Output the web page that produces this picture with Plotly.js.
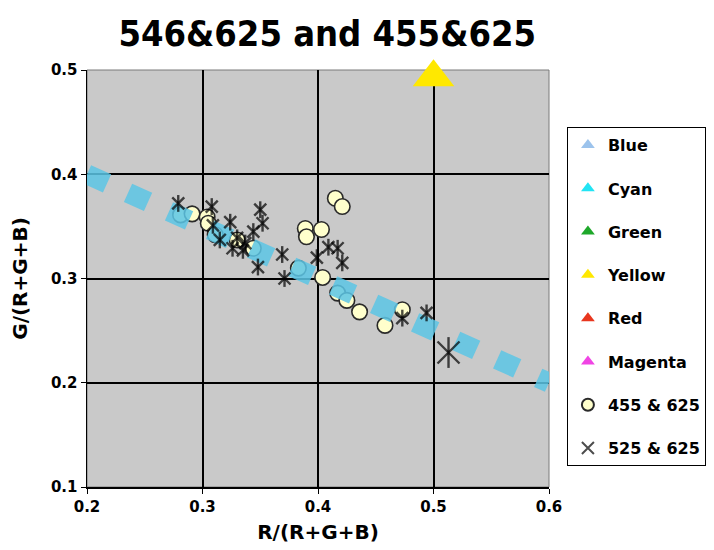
<!DOCTYPE html>
<html>
<head>
<meta charset="utf-8">
<script src="https://cdn.plot.ly/plotly-3.0.1.min.js"></script>
<style>html,body{margin:0;padding:0;background:#fff;}#chart{width:714px;height:550px;}</style>
</head>
<body>
<div id="chart"></div>
<script>
// Reference primaries (only Yellow falls inside the plotted range)
const blueX = [null], blueY = [null];
const cyanX = [null], cyanY = [null];
const greenX = [null], greenY = [null];
const yellowX = [0.5], yellowY = [0.493];
const redX = [null], redY = [null];
const magentaX = [null], magentaY = [null];

// Line G = B  (G/(R+G+B) = (1 - R/(R+G+B)) / 2)
const refLineX = [0.2, 0.6];
const refLineY = [0.4, 0.2];

// 455 & 625 series
const s455X = [0.281, 0.291, 0.304, 0.305, 0.311, 0.330, 0.344, 0.415, 0.421, 0.389, 0.390, 0.403, 0.383, 0.404, 0.417, 0.425, 0.436, 0.458, 0.473];
const s455Y = [0.361, 0.362, 0.359, 0.353, 0.342, 0.337, 0.329, 0.377, 0.369, 0.348, 0.340, 0.347, 0.310, 0.301, 0.286, 0.279, 0.268, 0.255, 0.270];

// 525 & 625 series
const s525X = [0.279, 0.308, 0.309, 0.324, 0.350, 0.352, 0.344, 0.330, 0.326, 0.337, 0.335, 0.315, 0.348, 0.369, 0.371, 0.399, 0.409, 0.417, 0.421, 0.473, 0.494, 0.513];
const s525Y = [0.372, 0.369, 0.351, 0.354, 0.366, 0.353, 0.345, 0.339, 0.329, 0.334, 0.327, 0.337, 0.311, 0.323, 0.300, 0.320, 0.330, 0.329, 0.315, 0.262, 0.267, 0.229];

const xTicks = [0.2, 0.3, 0.4, 0.5, 0.6];
const yTicks = [0.1, 0.2, 0.3, 0.4, 0.5];

const starSizes = s525X.map((v, i) => i === s525X.length - 1 ? 22 : 12);

function tri(name, x, y, color, size) {
  return {type: 'scatter', mode: 'markers', name: name, x: x, y: y,
    marker: {symbol: 'triangle-up', size: size || 12, color: color}, cliponaxis: false};
}

const traces = [
  tri('Blue', blueX, blueY, '#9CC3EC'),
  tri('Cyan', cyanX, cyanY, '#22E4F4'),
  tri('Green', greenX, greenY, '#1EA82A'),
  tri('Yellow', yellowX, yellowY, '#FFE800', 36),
  tri('Red', redX, redY, '#E8361E'),
  tri('Magenta', magentaX, magentaY, '#F044E4'),
  {type: 'scatter', mode: 'markers', name: '455 & 625', x: s455X, y: s455Y,
    marker: {symbol: 'circle', size: 15.5, color: '#FFFFCC', line: {color: '#2a2a2a', width: 1.6}}},
  {type: 'scatter', mode: 'lines', name: 'G=B', x: refLineX, y: refLineY, showlegend: false,
    opacity: 0.85, line: {color: '#5CC6E6', width: 20, dash: '22px,23px'}},
  {type: 'scatter', mode: 'markers', name: '525 & 625', x: s525X, y: s525Y, legendgroup: 'stars',
    marker: {symbol: 'x-thin-open', size: starSizes, color: '#000', line: {color: '#000', width: 2.4}}},
  {type: 'scatter', mode: 'markers', name: '525 & 625', x: s525X, y: s525Y, legendgroup: 'stars', showlegend: false,
    marker: {symbol: 'line-ns-open', size: starSizes, color: '#000', line: {color: '#000', width: 2.4}}}
];

const tickFont = {family: 'DejaVu Sans, Verdana, sans-serif', size: 15, color: '#000', weight: 'bold'};
const titleFont = {family: 'DejaVu Sans, Verdana, sans-serif', size: 20, color: '#000', weight: 'bold'};
const layout = {
  width: 714, height: 550,
  margin: {l: 87, r: 165, t: 70, b: 63},
  paper_bgcolor: '#ffffff',
  plot_bgcolor: '#C9C9C9',
  title: {text: '546&625 and 455&625', x: 0.52, xref: 'paper', y: 0.94, yref: 'container', yanchor: 'middle',
    font: {family: 'DejaVu Sans Condensed, DejaVu Sans, sans-serif', size: 36, color: '#000', weight: 'bold'}},
  xaxis: {range: [0.2, 0.6], tickvals: xTicks, ticktext: xTicks.map(v => v.toFixed(1)),
    showgrid: true, gridcolor: '#000', gridwidth: 2, zeroline: false,
    showline: true, linecolor: '#000', linewidth: 1.5, ticks: 'outside', ticklen: 5, tickcolor: '#000',
    tickfont: tickFont, automargin: false,
    title: {text: 'R/(R+G+B)', standoff: 10, font: titleFont}},
  yaxis: {range: [0.1, 0.5], tickvals: yTicks, ticktext: yTicks.map(v => v.toFixed(1)),
    showgrid: true, gridcolor: '#000', gridwidth: 2, zeroline: false,
    showline: true, linecolor: '#000', linewidth: 1.5, ticks: 'outside', ticklen: 5, tickcolor: '#000',
    tickfont: tickFont, automargin: false,
    title: {text: 'G/(R+G+B)', standoff: 18, font: titleFont}},
  shapes: [{type: 'rect', xref: 'paper', yref: 'paper', x0: 0, x1: 1, y0: 0, y1: 1,
    line: {color: '#7a7a7a', width: 1}, layer: 'below'}],
  legend: {xref: 'container', yref: 'container', x: 0.794, xanchor: 'left', y: 0.769, yanchor: 'top',
    maxheight: 420,
    bordercolor: '#000', borderwidth: 1, bgcolor: '#fff',
    traceorder: 'grouped', tracegroupgap: 19.5, itemsizing: 'constant',
    font: {family: 'DejaVu Sans, Verdana, sans-serif', size: 16, color: '#000', weight: 'bold'}},
  showlegend: true
};

Plotly.newPlot('chart', traces, layout, {displayModeBar: false, staticPlot: true});
</script>
</body>
</html>
